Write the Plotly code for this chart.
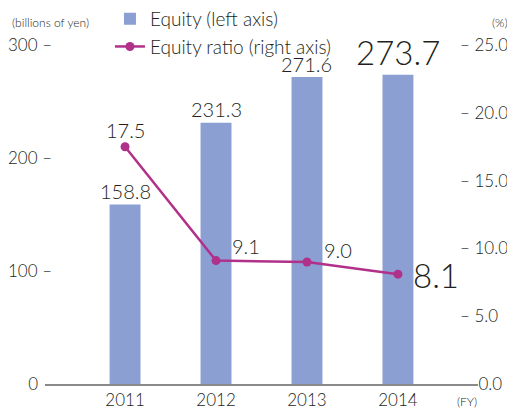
import plotly.graph_objects as go

years = ["2011", "2012", "2013", "2014"]
equity = [158.8, 231.3, 271.6, 273.7]
equity_ratio = [17.5, 9.1, 9.0, 8.1]

left_ticks = [0, 100, 200, 300]
left_ticktext = ["0\u00a0\u00a0\u00a0", "100 \u2013", "200 \u2013", "300 \u2013"]
right_ticks = [0, 5, 10, 15, 20, 25]
right_ticktext = ["\u00a0\u00a0\u00a0\u00a00.0", "\u2013 5.0", "\u2013 10.0", "\u2013 15.0", "\u2013 20.0", "\u2013 25.0"]

bar_label_sizes = [20, 20, 20, 33]
bar_label_shift = [0, 0, -1, 1]
line_label_sizes = [20, 20, 20, 33]
line_label_dx = [0, 30, 31, 38]
line_label_dy = [17, 15, 12, -1]

FONT = "Lato"
TXT = "#231f20"
BAR_C = "#8b9fd3"
LINE_C = "#b0308a"

fig = go.Figure()
fig.add_trace(go.Bar(
    x=years, y=equity, name="Equity (left axis)", marker_color=BAR_C,
    width=0.34, yaxis="y", legendgroup="a", hoverinfo="skip",
))
fig.add_trace(go.Scatter(
    x=years, y=equity_ratio, name="Equity ratio (right axis)", mode="lines+markers",
    line=dict(color=LINE_C, width=2.5), marker=dict(color=LINE_C, size=9),
    yaxis="y2", legendgroup="b", hoverinfo="skip",
))

annotations = []
for i, v in enumerate(equity):
    annotations.append(dict(
        x=i, y=v, xref="x", yref="y", text=f"{v:.1f}", showarrow=False,
        yanchor="bottom", xanchor="center", yshift=bar_label_shift[i],
        font=dict(family=FONT, size=bar_label_sizes[i], color=TXT, weight=300),
    ))
for i, v in enumerate(equity_ratio):
    annotations.append(dict(
        x=i, y=v, xref="x", yref="y2", text=f"{v:.1f}", showarrow=False,
        yanchor="middle", xanchor="center", xshift=line_label_dx[i], yshift=line_label_dy[i],
        font=dict(family=FONT, size=line_label_sizes[i], color=TXT, weight=300),
    ))
annotations += [
    dict(x=-0.081, y=1.065, xref="paper", yref="paper", text="(billions of yen)", showarrow=False,
         xanchor="left", yanchor="middle", font=dict(family=FONT, size=12, color=TXT, weight=300)),
    dict(x=1.074, y=1.065, xref="paper", yref="paper", text="(%)", showarrow=False,
         xanchor="right", yanchor="middle", font=dict(family=FONT, size=12, color=TXT, weight=300)),
    dict(x=0.975, y=-0.053, xref="paper", yref="paper", text="(FY)", showarrow=False,
         xanchor="center", yanchor="middle", font=dict(family=FONT, size=12, color=TXT, weight=300)),
]

tickfont = dict(family=FONT, size=17, color=TXT, weight=300)

fig.update_layout(
    template="none",
    width=507, height=401,
    margin=dict(l=37, r=37, t=37, b=25, autoexpand=False),
    paper_bgcolor="white", plot_bgcolor="white",
    font=dict(family=FONT, size=17, color=TXT, weight=300),
    showlegend=True,
    legend=dict(x=0.15, y=1.133, xref="paper", yref="paper", xanchor="left", yanchor="top",
                bgcolor="rgba(0,0,0,0)", font=dict(family=FONT, size=19, color=TXT, weight=300),
                traceorder="grouped", tracegroupgap=0, itemwidth=30),
    xaxis=dict(type="category", range=[-0.88, 3.88], showgrid=False, showline=True,
               linecolor="#8a8a8a", linewidth=2, ticks="", tickfont=tickfont, automargin=False),
    yaxis=dict(range=[0, 300], tickvals=left_ticks, ticktext=left_ticktext, showgrid=False,
               showline=False, zeroline=False, ticks="", tickfont=tickfont,
               ticklabelstandoff=-8, automargin=False),
    yaxis2=dict(range=[0, 25], overlaying="y", side="right", tickvals=right_ticks,
                ticktext=right_ticktext, showgrid=False, showline=False, zeroline=False,
                ticks="", tickfont=tickfont, ticklabelstandoff=-19, automargin=False),
    annotations=annotations,
    bargap=0.66,
)

fig.write_html("out.html")
